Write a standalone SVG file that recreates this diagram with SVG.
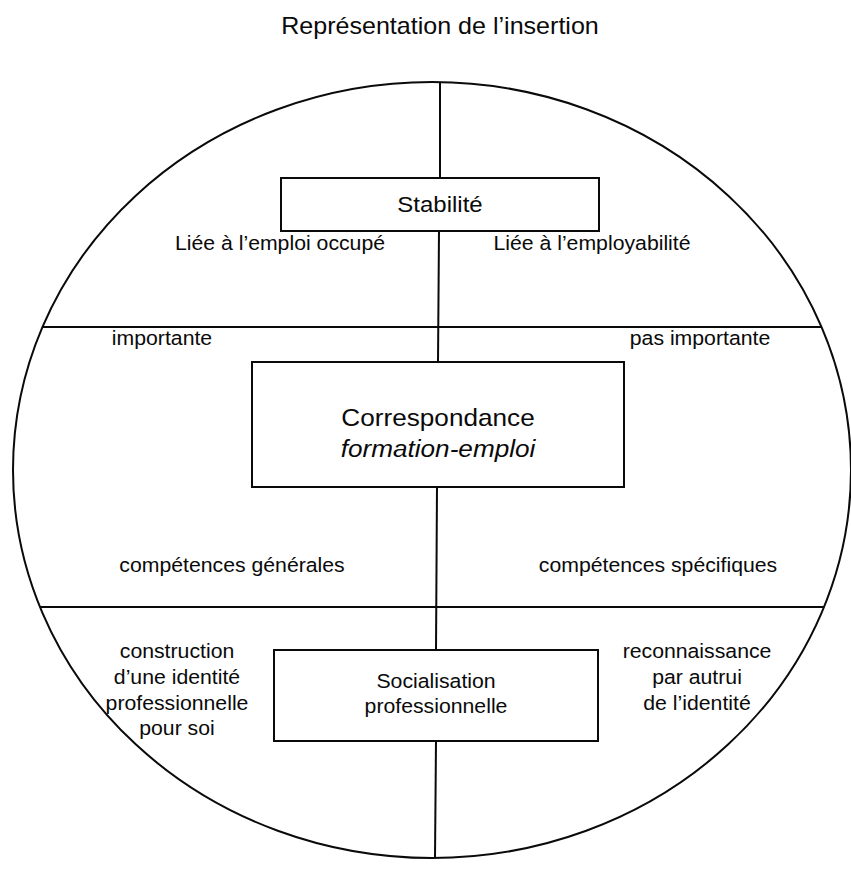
<svg xmlns="http://www.w3.org/2000/svg" width="851" height="869" viewBox="0 0 851 869">
  <style>
    text { font-family: "Liberation Sans", Arial, sans-serif; fill: #0a0a0a; text-anchor: middle; }
    .title { font-size: 23px; }
    .box-label { font-size: 22px; }
    .big-box-label { font-size: 24px; }
    .label { font-size: 19.5px; }
    .small-box-label { font-size: 19.5px; }
    .it { font-style: italic; }
    .frame { fill: none; stroke: #0a0a0a; stroke-width: 2; }
    .node rect { fill: #fff; stroke: #0a0a0a; stroke-width: 2; }
    .conn line { stroke: #0a0a0a; stroke-width: 2; }
  </style>
  <rect width="851" height="869" fill="#fff"/>

  <text class="title" transform="translate(440 34) scale(1.09 1)">Représentation de l’insertion</text>

  <!-- outer oval -->
  <ellipse class="frame" cx="432" cy="470" rx="419" ry="388"/>

  <!-- dividing lines and vertical axis -->
  <g id="connectors" class="conn">
    <line x1="43" y1="327" x2="821" y2="327"/>
    <line x1="40" y1="607" x2="824" y2="607"/>
    <line x1="440" y1="82" x2="440" y2="178"/>
    <line x1="439" y1="231" x2="438" y2="362"/>
    <line x1="437" y1="487" x2="436" y2="650"/>
    <line x1="436" y1="741" x2="435" y2="858"/>
  </g>

  <g id="stabilite" class="node">
    <rect x="281" y="178" width="318" height="53"/>
    <text class="box-label" transform="translate(440 212) scale(1.09 1)">Stabilité</text>
  </g>

  <g id="correspondance" class="node">
    <rect x="252" y="362" width="372" height="125"/>
    <text class="big-box-label" transform="translate(438 426) scale(1.09 1)">Correspondance</text>
    <text class="big-box-label it" transform="translate(438 457) scale(1.09 1)">formation-emploi</text>
  </g>

  <g id="socialisation" class="node">
    <rect x="274" y="650" width="324" height="91"/>
    <text class="small-box-label" transform="translate(436 688) scale(1.09 1)">Socialisation</text>
    <text class="small-box-label" transform="translate(436 713) scale(1.09 1)">professionnelle</text>
  </g>

  <!-- side labels -->
  <g id="labels">
    <text class="label" transform="translate(280 250) scale(1.09 1)">Liée à l’emploi occupé</text>
    <text class="label" transform="translate(592 250) scale(1.09 1)">Liée à l’employabilité</text>
    <text class="label" transform="translate(162 345) scale(1.09 1)">importante</text>
    <text class="label" transform="translate(700 345) scale(1.09 1)">pas importante</text>
    <text class="label" transform="translate(232 572) scale(1.09 1)">compétences générales</text>
    <text class="label" transform="translate(658 572) scale(1.09 1)">compétences spécifiques</text>
    <text class="label" transform="translate(177 658) scale(1.09 1)">construction</text>
    <text class="label" transform="translate(177 684) scale(1.09 1)">d’une identité</text>
    <text class="label" transform="translate(177 710) scale(1.09 1)">professionnelle</text>
    <text class="label" transform="translate(177 735) scale(1.09 1)">pour soi</text>
    <text class="label" transform="translate(697 658) scale(1.09 1)">reconnaissance</text>
    <text class="label" transform="translate(697 684) scale(1.09 1)">par autrui</text>
    <text class="label" transform="translate(697 710) scale(1.09 1)">de l’identité</text>
  </g>
</svg>
